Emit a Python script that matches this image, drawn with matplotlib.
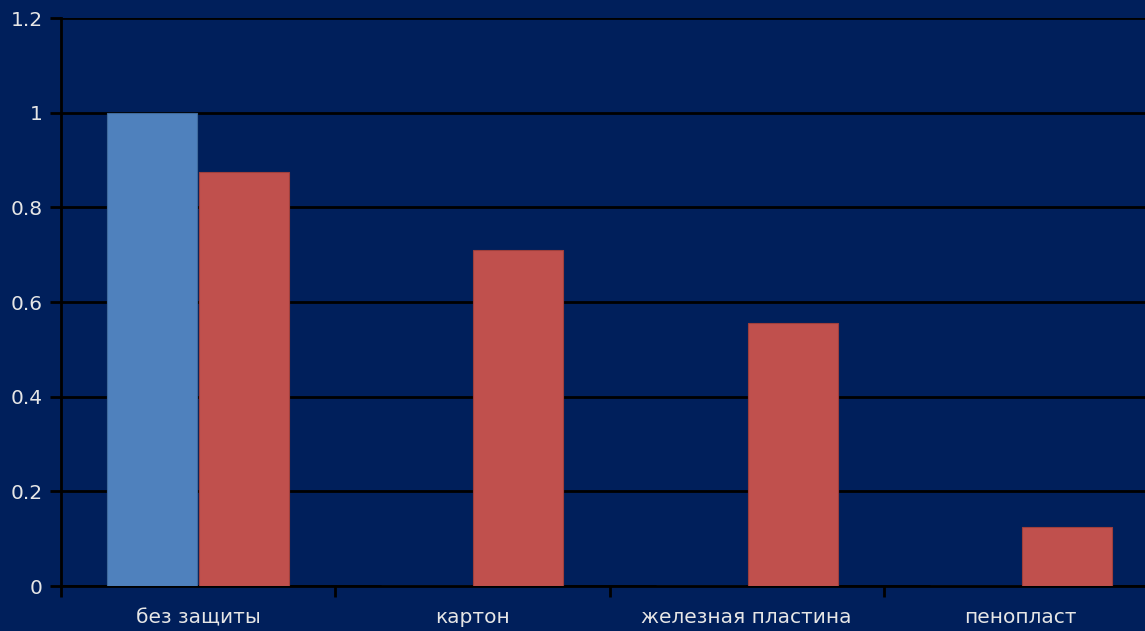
import matplotlib
matplotlib.use("Agg")
import matplotlib.pyplot as plt
import numpy as np

categories = ["без защиты", "картон", "железная пластина", "пенопласт"]
series_blue = [1.0, 0, 0, 0]
series_red = [0.875, 0.71, 0.555, 0.125]
yticks = [0, 0.2, 0.4, 0.6, 0.8, 1.0, 1.2]
ytick_labels = ["0", "0.2", "0.4", "0.6", "0.8", "1", "1.2"]

W, H = 1145, 631
fig = plt.figure(figsize=(W / 100, H / 100), dpi=100)
bg = "#001f5b"
fig.patch.set_facecolor(bg)

left = 61 / W
right_px = 1158
ax = fig.add_axes([left, 45 / H, (right_px - 61) / W, (586 - 18) / H])
ax.set_facecolor(bg)

x = np.arange(len(categories))
w = 0.328
ax.bar(x - w / 2 - 0.004, series_blue, width=w, color="#4f81bd", edgecolor="#3f6a9c", linewidth=0.8, zorder=3)
ax.bar(x + w / 2 + 0.004, series_red, width=w, color="#c0504d", edgecolor="#9e3f3c", linewidth=0.8, zorder=3)

ax.set_xlim(-0.5, len(categories) - 0.5)
ax.set_ylim(0, 1.2)
ax.set_yticks(yticks)
ax.set_yticklabels(ytick_labels)
ax.set_xticks(x)
ax.set_xticklabels(categories)
ax.set_xticks(np.arange(len(categories) + 1) - 0.5, minor=True)

ax.yaxis.grid(True, color="black", linewidth=2, zorder=1)
ax.set_axisbelow(True)
for s in ["top", "right"]:
    ax.spines[s].set_visible(False)
ax.spines["left"].set_color("black")
ax.spines["left"].set_linewidth(2)
ax.spines["bottom"].set_color("black")
ax.spines["bottom"].set_linewidth(2)

fs = 14.5
ax.tick_params(axis="y", colors="#e6e6e6", length=8, width=2, labelsize=fs, pad=5, color="black")
ax.tick_params(axis="x", which="major", length=0, colors="#e6e6e6", labelsize=fs, pad=16)
ax.tick_params(axis="x", which="minor", length=8, width=2, color="black")
for t in ax.get_yticklabels():
    t.set_color("#e6e6e6")
for t in ax.get_xticklabels():
    t.set_color("#e6e6e6")

fig.savefig("out.png", dpi=100, facecolor=bg)
